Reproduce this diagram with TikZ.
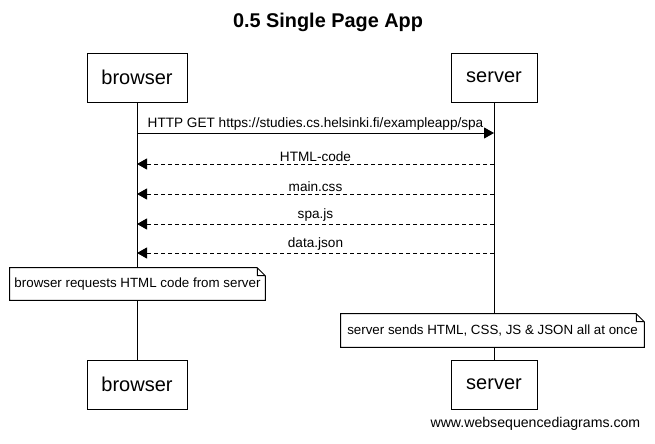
\documentclass[tikz,border=0pt]{standalone}
\usepackage{fontspec}
\setmainfont{Liberation Sans}
\usetikzlibrary{arrows.meta}

\tikzset{
  actor/.style={draw, line width=0.75pt, minimum height=36.75pt, inner sep=0pt, font=\fontsize{15}{18}\selectfont},
  lifeline/.style={line width=0.75pt},
  msg/.style={line width=0.75pt, -{Triangle[length=7.5pt,width=8.25pt]}},
  reply/.style={msg, dash pattern=on 3pt off 2.25pt},
  lbl/.style={above, inner sep=1.5pt, font=\fontsize{10.2}{12}\selectfont},
  note/.style={fill=white, inner sep=0pt, font=\fontsize{10}{12}\selectfont},
}

\begin{document}
\begin{tikzpicture}[x=0.75pt,y=-0.75pt]
			\useasboundingbox (0,0) rectangle (655,443);
			\node[font=\bfseries\fontsize{14.9}{18}\selectfont] (title) at (328,22) {0.5 Single Page App};
			\node[actor, minimum width=75pt] (b1) at (137,77.5) {browser};
			\node[actor, minimum width=64.5pt] (s1) at (494,77.5) {server};
			\node[actor, minimum width=75pt] (b2) at (137,384.5) {browser};
			\node[actor, minimum width=64.5pt] (s2) at (494,384.5) {server};
			\draw[lifeline] (b1) -- (b2);
			\draw[lifeline] (s1) -- (s2);
			\draw[msg] (b1 |- 0,133) -- node[lbl] {HTTP GET https://studies.cs.helsinki.fi/exampleapp/spa} (s1 |- 0,133);
			\foreach \y/\t in {164/HTML-code,194/main.css,224/spa.js,253/data.json}
				\draw[reply] (s1 |- 0,\y) -- node[lbl] {\t} (b1 |- 0,\y);
			\node[note, minimum width=191.25pt, minimum height=24pt] (n1) at (137.5,284) {browser requests HTML code from server};
			\node[note, minimum width=227.25pt, minimum height=24.75pt] (n2) at (492.5,330.5) {server sends HTML, CSS, JS \& JSON all at once};
			\foreach \n in {n1,n2}
				\draw[line width=0.75pt] (\n.south west) -- (\n.north west) -- ([xshift=-6pt]\n.north east) -- ([yshift=-6pt]\n.north east) -- (\n.south east) -- cycle
					([xshift=-6pt]\n.north east) |- ([yshift=-6pt]\n.north east);
			\node[anchor=east, font=\fontsize{10.6}{13}\selectfont] (site) at (645,424) {www.websequencediagrams.com};
		\end{tikzpicture}
\end{document}
